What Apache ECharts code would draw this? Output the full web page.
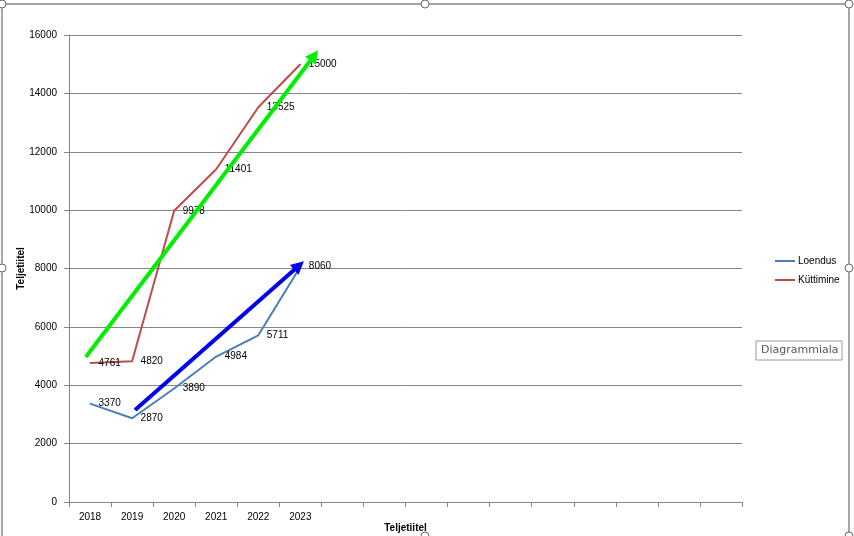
<!DOCTYPE html>
<html><head><meta charset="utf-8">
<script src="https://cdn.jsdelivr.net/npm/echarts@6/dist/echarts.min.js"></script>
<style>html,body{margin:0;padding:0;background:#fff}#c{width:854px;height:536px}</style>
</head><body><div id="c"></div>
<script>
const categories = ['2018','2019','2020','2021','2022','2023','','','','','','','','','',''];
const loendus = [3370, 2870, 3890, 4984, 5711, 8060];
const kuttimine = [4761, 4820, 9978, 11401, 13525, 15000];
const yTicks = [0, 2000, 4000, 6000, 8000, 10000, 12000, 14000, 16000];
// trend arrows (annotations), in [category position, value]
const greenArrow = [[0.40, 4970], [5.83, 15300]];
const blueArrow = [[1.57, 3150], [5.47, 8100]];

const chart = echarts.init(document.getElementById('c'));
const font = 'Liberation Sans, Arial, sans-serif';
const lbl = {show: true, position: 'right', distance: 8, color: '#000', fontSize: 10, fontFamily: font};
chart.setOption({
  animation: false,
  grid: {left: 69, right: 112, top: 35, bottom: 34, outerBoundsMode: 'none', containLabel: false},
  legend: {
    orient: 'vertical', left: 770, top: 251, itemWidth: 20, itemHeight: 2, itemGap: 9,
    icon: 'rect',
    textStyle: {fontSize: 10, fontFamily: font, color: '#000', padding: [0,0,0,-2]},
    data: ['Loendus', 'Küttimine']
  },
  xAxis: [{
    type: 'category', data: categories, boundaryGap: true,
    axisLine: {lineStyle: {color: '#868686'}},
    axisTick: {show: true, interval: 0, length: 5, lineStyle: {color: '#868686'}},
    axisLabel: {interval: 0, color: '#000', fontSize: 10, fontFamily: font, margin: 10},
    name: 'Teljetiitel', nameLocation: 'middle', nameGap: 21, nameMoveOverlap: false,
    nameTextStyle: {fontWeight: 'bold', fontSize: 10, fontFamily: font, color: '#000'}
  }, {
    type: 'value', min: 0, max: 16, show: false
  }],
  yAxis: {
    type: 'value', min: yTicks[0], max: yTicks[yTicks.length-1], interval: 2000,
    axisLine: {show: true, lineStyle: {color: '#868686'}},
    axisTick: {show: true, length: 5, lineStyle: {color: '#868686'}},
    splitLine: {lineStyle: {color: '#868686'}},
    axisLabel: {color: '#000', fontSize: 10, fontFamily: font, margin: 12, formatter: v => String(v)},
    name: 'Teljetiitel', nameLocation: 'middle', nameGap: 43, nameRotate: 90, nameMoveOverlap: false,
    nameTextStyle: {fontWeight: 'bold', fontSize: 10, fontFamily: font, color: '#000'}
  },
  series: [
    {name: 'Loendus', type: 'line', data: loendus, symbol: 'circle', symbolSize: 1, showSymbol: true,
     lineStyle: {color: '#4a7ebb', width: 2}, itemStyle: {color: '#4a7ebb'}, label: lbl, z: 3},
    {name: 'Küttimine', type: 'line', data: kuttimine, symbol: 'circle', symbolSize: 1, showSymbol: true,
     lineStyle: {color: '#be4b48', width: 2}, itemStyle: {color: '#be4b48'}, label: lbl, z: 3},
    {type: 'lines', coordinateSystem: 'cartesian2d', xAxisIndex: 1, z: 4,
     symbol: ['none', 'triangle'], symbolSize: 13,
     lineStyle: {color: '#00ee00', width: 4, opacity: 1},
     data: [{coords: greenArrow}]},
    {type: 'lines', coordinateSystem: 'cartesian2d', xAxisIndex: 1, z: 4,
     symbol: ['none', 'triangle'], symbolSize: 13,
     lineStyle: {color: '#0000ee', width: 4, opacity: 1},
     data: [{coords: blueArrow}]}
  ],
  graphic: [
    {type: 'rect', shape: {x: 2, y: 4, width: 847, height: 540}, style: {fill: 'none', stroke: '#8a8a8a', lineWidth: 1.5}, silent: true},
    {type: 'circle', shape: {cx: 2, cy: 4, r: 4}, style: {fill: '#fff', stroke: '#666', lineWidth: 1}},
    {type: 'circle', shape: {cx: 425, cy: 4, r: 4}, style: {fill: '#fff', stroke: '#666', lineWidth: 1}},
    {type: 'circle', shape: {cx: 849, cy: 4, r: 4}, style: {fill: '#fff', stroke: '#666', lineWidth: 1}},
    {type: 'circle', shape: {cx: 2, cy: 268, r: 4}, style: {fill: '#fff', stroke: '#666', lineWidth: 1}},
    {type: 'circle', shape: {cx: 849, cy: 268, r: 4}, style: {fill: '#fff', stroke: '#666', lineWidth: 1}},
    {type: 'circle', shape: {cx: 425, cy: 536, r: 4}, style: {fill: '#fff', stroke: '#666', lineWidth: 1}},
    {type: 'circle', shape: {cx: 849, cy: 536, r: 4}, style: {fill: '#fff', stroke: '#666', lineWidth: 1}},
    {type: 'rect', shape: {x: 756, y: 341, width: 86, height: 19}, style: {fill: '#fff', stroke: '#999', lineWidth: 1}},
    {type: 'text', x: 761, y: 345, style: {text: 'Diagrammiala', fontSize: 11, fontFamily: 'DejaVu Sans, sans-serif', fill: '#555'}}
  ]
});
</script></body></html>
